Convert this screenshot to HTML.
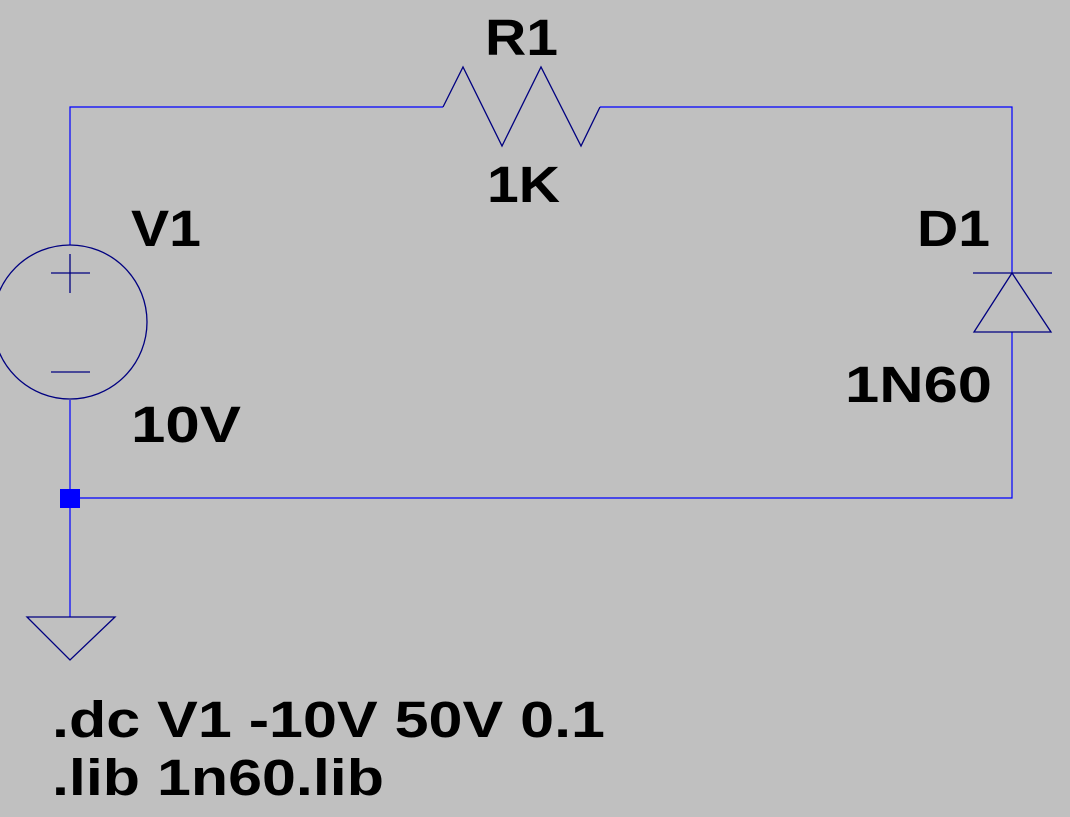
<!DOCTYPE html>
<html><head><style>
html,body{margin:0;padding:0;background:#c0c0c0;}
svg{display:block;}
text{font-family:"Liberation Sans",sans-serif;font-weight:bold;font-size:51px;fill:#000;}
</style></head><body>
<svg width="1070" height="817" viewBox="0 0 1070 817" xmlns="http://www.w3.org/2000/svg">
<rect width="1070" height="817" fill="#c0c0c0"/>
<g stroke="#0000ff" stroke-width="1.2" fill="none">
<polyline points="70,245 70,107 443,107"/>
<polyline points="600,107 1012,107 1012,273"/>
<polyline points="1012,332 1012,498 70,498"/>
<line x1="70" y1="400" x2="70" y2="617"/>
</g>
<g stroke="#000080" stroke-width="1.3" fill="none">
<circle cx="70" cy="322" r="77"/>
<line x1="51" y1="273" x2="90" y2="273"/>
<line x1="70" y1="254" x2="70" y2="293"/>
<line x1="51" y1="372" x2="90" y2="372"/>
<polyline points="443,107 463,67 502,146 541,67 581,146 600,107"/>
<line x1="973" y1="273" x2="1052" y2="273"/>
<polygon points="1012,273 974,332 1051,332"/>
<polygon points="27,617 115,617 70,660"/>
</g>
<rect x="60" y="489" width="20" height="19" fill="#0000ff"/>
<text x="485" y="55" textLength="73" lengthAdjust="spacingAndGlyphs">R1</text>
<text x="487" y="202" textLength="73" lengthAdjust="spacingAndGlyphs">1K</text>
<text x="131" y="246" textLength="70" lengthAdjust="spacingAndGlyphs">V1</text>
<text x="131" y="442" textLength="110" lengthAdjust="spacingAndGlyphs">10V</text>
<text x="917" y="246" textLength="73" lengthAdjust="spacingAndGlyphs">D1</text>
<text x="845" y="402" textLength="147" lengthAdjust="spacingAndGlyphs">1N60</text>
<text x="52" y="737" textLength="553" lengthAdjust="spacingAndGlyphs">.dc V1 -10V 50V 0.1</text>
<text x="52" y="795" textLength="332" lengthAdjust="spacingAndGlyphs">.lib 1n60.lib</text>
</svg>
</body></html>
